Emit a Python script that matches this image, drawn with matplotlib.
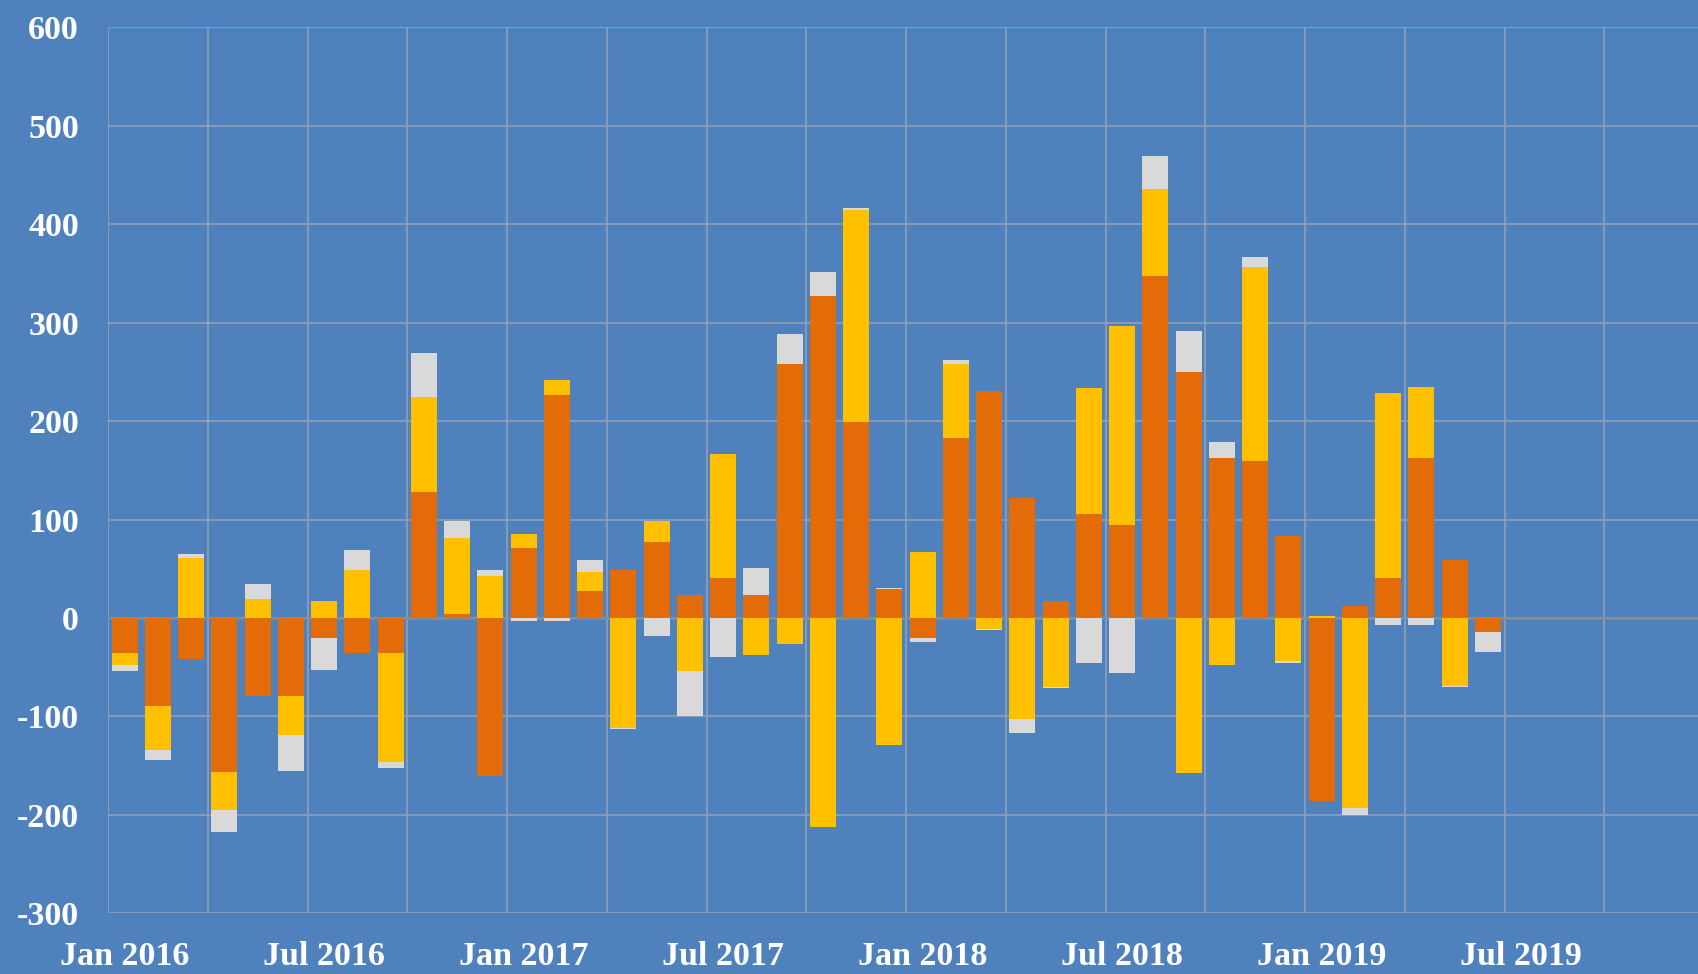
import matplotlib
matplotlib.use("Agg")
import matplotlib.pyplot as plt
import numpy as np

plt.rcParams['axes.unicode_minus'] = False

# Monthly data, Jan 2016 .. Jun 2019
orange = [-36, -89, -42, -156, -79, -79, -20, -36, -36, 128, 4, -160,
          71, 227, 27, 49, 77, 23, 41, 23, 258, 327, 199, 29,
          -20, 183, 231, 122, 17, 106, 94, 347, 250, 163, 159, 83,
          -186, 12, 41, 163, 59, -14]
yellow = [-12, -45, 61, -39, 19, -40, 17, 49, -110, 96, 77, 43,
          14, 15, 20, -112, 22, -54, 126, -38, -26, -212, 215, -129,
          67, 75, -11, -103, -70, 128, 203, 89, -157, -48, 198, -44,
          2, -193, 188, 72, -69, 0]
gray = [-6, -10, 4, -22, 16, -36, -33, 20, -6, 45, 18, 6,
        -3, -3, 12, -1, -18, -45, -40, 28, 30, 24, 2, 2,
        -4, 4, -1, -14, -1, -46, -56, 33, 42, 16, 10, -2,
        0, -7, -7, -7, -1, -20]
xlabels = ["Jan 2016", "Jul 2016", "Jan 2017", "Jul 2017",
           "Jan 2018", "Jul 2018", "Jan 2019", "Jul 2019"]
yticks = [-300, -200, -100, 0, 100, 200, 300, 400, 500, 600]

BG = "#4f81bd"
GRID = "#8a9db8"
colors = ["#e36c09", "#ffc000", "#d9d9d9"]

fig = plt.figure(figsize=(16.99, 9.74), dpi=100, facecolor=BG)
ax = fig.add_axes([0.0636, 0.0622, 0.9394, 0.9098])
ax.set_facecolor(BG)

n = len(orange)
x = np.arange(n) + 0.5
pos = np.zeros(n)
neg = np.zeros(n)
for vals, c in zip([orange, yellow, gray], colors):
    v = np.array(vals, dtype=float)
    bottom = np.where(v >= 0, pos, neg)
    ax.bar(x, v, bottom=bottom, width=0.78, color=c, linewidth=0, zorder=3)
    pos = pos + np.where(v > 0, v, 0)
    neg = neg + np.where(v < 0, v, 0)

ax.set_xlim(0, 48)
ax.set_ylim(-300, 600)
ax.set_yticks(yticks)
ax.set_yticklabels([str(t) for t in yticks])
ax.set_xticks(np.arange(0, 49, 3), minor=True)
ax.set_xticks(np.arange(0, 43, 6) + 0.5)
ax.set_xticklabels(xlabels)

ax.grid(True, axis='y', color=GRID, linewidth=1.3, zorder=0)
ax.grid(True, axis='x', which='minor', color=GRID, linewidth=1.3, zorder=0)
ax.grid(False, axis='x', which='major')
ax.axhline(0, color="#858b96", linewidth=1.8, zorder=2)
ax.set_axisbelow(True)
for s in ax.spines.values():
    s.set_visible(False)

ax.tick_params(axis='both', which='both', length=0)
ax.tick_params(axis='y', pad=21)
ax.tick_params(axis='x', pad=20)
for lab in ax.get_xticklabels() + ax.get_yticklabels():
    lab.set_fontfamily("Liberation Serif")
    lab.set_fontweight("bold")
    lab.set_fontsize(24.5)
    lab.set_color("white")

fig.savefig("out.png", dpi=100, facecolor=BG)
